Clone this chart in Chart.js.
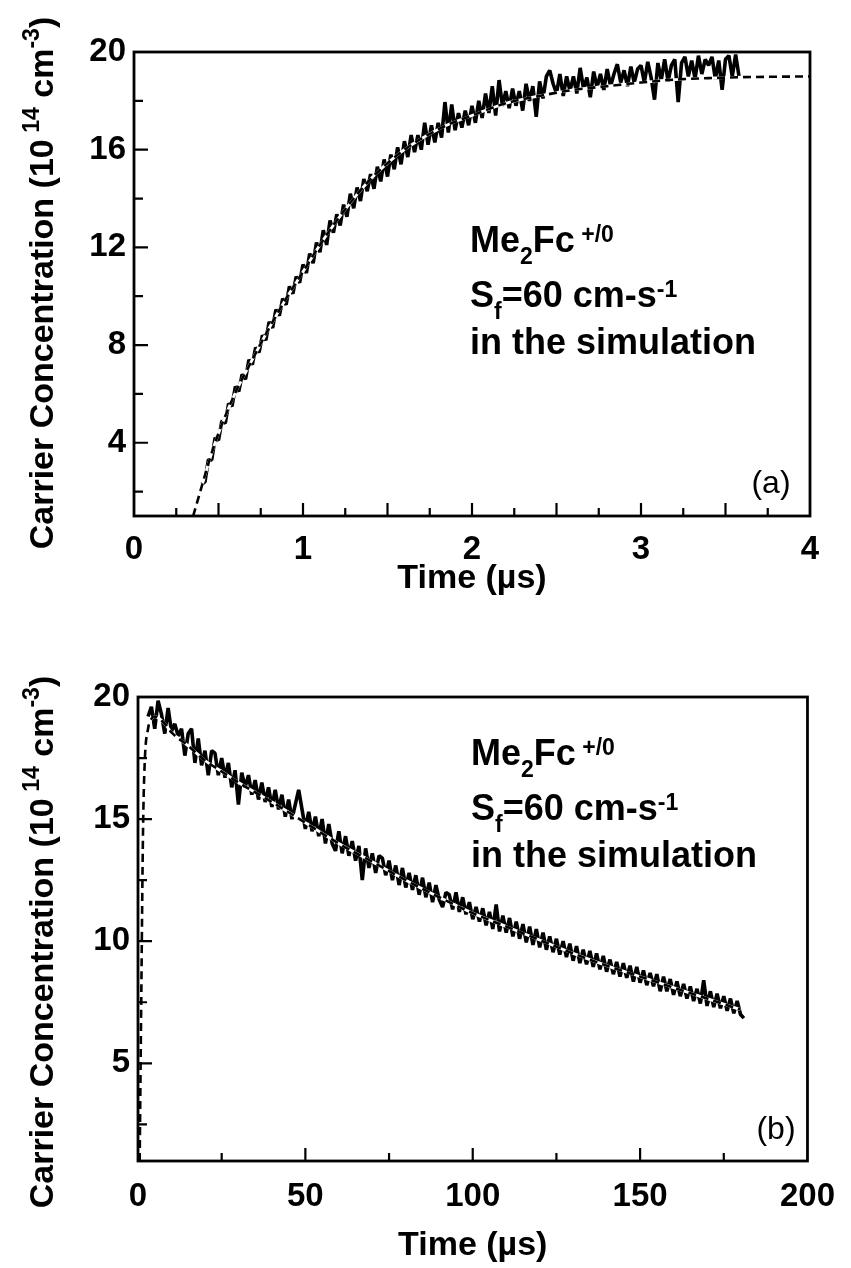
<!DOCTYPE html>
<html>
<head>
<meta charset="utf-8">
<script src="https://cdn.jsdelivr.net/npm/chart.js@4.4.1/dist/chart.umd.min.js"></script>
<style>
  html, body { margin: 0; padding: 0; background: #fff; }
  #wrap { position: relative; width: 851px; height: 1268px; }
  canvas { position: absolute; left: 0; }
  #chartA { top: 0; }
  #chartB { top: 620px; }
</style>
</head>
<body>
<div id="wrap">
  <canvas id="chartA" width="851" height="620"></canvas>
  <canvas id="chartB" width="851" height="648"></canvas>
</div>
<script>
// ---- panel (a): rise, 0-4 us ----
// measured trace, sampled every 0.02 us starting at 0.40 us
const startA = 0.40;
const stepA = 0.02;
const measuredA = [
  2.3, 2.4, 3.3, 3.3, 4.2, 4.1, 4.9, 4.8, 5.6, 5.5,
  6.3, 6.1, 6.8, 6.6, 7.4, 7.2, 7.9, 7.7, 8.4, 8.2,
  8.95, 8.7, 9.45, 9.2, 9.9, 9.65, 10.4, 10.1, 10.8, 10.55,
  11.3, 10.95, 11.75, 11.35, 12.2, 11.8, 12.7, 12.1, 13.1, 12.6,
  13.35, 12.9, 13.75, 13.25, 14.2, 13.6, 14.45, 13.9, 14.8, 14.3,
  15.0, 14.4, 15.3, 14.7, 15.6, 14.9, 15.8, 15.2, 16.1, 15.4,
  16.35, 15.7, 16.6, 15.9, 16.6, 16.0, 17.1, 16.2, 17.0, 16.3,
  17.1, 16.5, 17.95, 16.7, 17.85, 16.8, 17.5, 16.9, 17.6, 17.0,
  17.8, 17.1, 18.0, 17.3, 18.3, 17.5, 18.6, 17.4, 18.85, 17.8,
  18.4, 17.7, 18.5, 17.8, 18.4, 17.6, 18.7, 18.0, 18.6, 17.35,
  18.8, 18.1, 19.0, 19.25, 18.7, 18.3, 19.1, 18.2, 19.0, 18.4,
  19.0, 18.3, 19.35, 18.5, 18.95, 18.15, 19.2, 18.55, 19.1, 18.45,
  19.3, 18.6, 19.1, 19.5, 18.75, 19.25, 18.6, 19.4, 18.75, 19.3,
  19.45, 18.75, 19.6, 18.95, 18.05, 19.55, 18.85, 19.7, 18.8, 19.45,
  19.7, 17.95, 19.55, 19.8, 19.0, 19.65, 18.9, 19.85, 19.1, 19.7,
  19.45, 19.8, 18.9, 19.65, 18.45, 19.7, 19.85, 19.0, 19.9, 19.0
];
// simulation (Sf = 60 cm/s)
const simTimeA = [0.35, 0.475, 0.59, 0.70, 0.80, 0.90, 1.00, 1.10, 1.20, 1.30, 1.40, 1.50, 1.60,
  1.70, 1.85, 2.00, 2.20, 2.40, 2.60, 2.80, 3.00, 3.20, 3.40, 3.60, 4.00];
const simValueA = [1.0, 3.9, 5.9, 7.4, 8.7, 9.9, 11.0, 12.1, 13.1, 14.0, 14.8, 15.45, 16.0,
  16.45, 17.0, 17.4, 17.9, 18.2, 18.45, 18.6, 18.75, 18.87, 18.93, 18.97, 19.0];
const xTicksA = [0, 0.25, 0.5, 0.75, 1, 1.25, 1.5, 1.75, 2, 2.25, 2.5, 2.75, 3, 3.25, 3.5, 3.75, 4];
const xLabelsA = [0, 1, 2, 3, 4];
const yTicksA = [2, 4, 6, 8, 10, 12, 14, 16, 18, 20];
const yLabelsA = [4, 8, 12, 16, 20];

// ---- panel (b): decay, 0-200 us ----
// measured trace, one sample per us starting at 3 us
const startB = 3;
const stepB = 1;
const measuredB = [
  19.2, 19.6, 18.7, 19.85, 19.3, 18.5, 19.55, 18.6, 18.9, 18.4,
  18.7, 17.6, 18.5, 18.7, 17.3, 18.3, 17.2, 17.8, 16.8, 17.8,
  17.7, 16.8, 17.5, 16.7, 17.3, 16.3, 17.0, 15.6, 16.9, 16.3,
  16.8, 16.0, 16.6, 15.8, 16.5, 15.7, 16.3, 15.5, 16.2, 15.4,
  16.0, 15.1, 15.8, 15.0, 15.6, 16.2, 15.4, 14.6, 15.3, 14.5,
  15.1, 14.3, 15.0, 14.0, 14.8, 14.0, 13.7, 14.5, 13.6, 14.3,
  13.5, 14.1, 13.3, 13.9, 12.5, 13.8, 13.0, 13.6, 12.8, 13.5,
  13.4, 12.7, 13.3, 12.5, 13.1, 12.3, 13.0, 12.2, 12.8, 12.1,
  12.7, 11.9, 12.6, 11.8, 12.4, 11.6, 12.3, 11.7, 11.4, 12.0,
  11.9, 11.3, 12.0, 11.2, 11.8, 11.1, 11.6, 10.9, 11.4, 10.8,
  11.35, 10.65, 11.2, 10.5, 11.5, 10.4, 11.05, 10.35, 10.95, 10.2,
  10.8, 10.1, 10.7, 9.95, 10.6, 9.85, 10.5, 9.75, 10.35, 9.65,
  10.2, 9.55, 10.1, 9.45, 10.0, 9.35, 9.9, 9.2, 9.8, 9.1,
  9.65, 9.05, 9.6, 8.95, 9.5, 8.85, 9.4, 8.75, 9.25, 8.65,
  9.15, 8.55, 9.1, 8.5, 9.0, 8.35, 8.95, 8.3, 8.8, 8.2,
  8.7, 8.15, 8.65, 7.95, 8.55, 7.95, 8.45, 7.8, 8.35, 7.75,
  8.25, 7.65, 8.15, 7.55, 8.05, 7.45, 8.4, 7.35, 7.95, 7.3,
  7.85, 7.25, 7.75, 7.15, 7.65, 7.05, 7.55, 7.0, 6.85
];
const simTimeB = [0.5, 1, 1.5, 2, 3, 4, 5, 6, 8, 10, 15, 20, 25, 30, 40, 50, 60, 70, 80, 90,
  100, 110, 120, 130, 140, 150, 160, 170, 180];
const simValueB = [1.0, 8.0, 14.5, 17.3, 18.7, 19.1, 19.2, 19.15, 18.9, 18.55, 18.0, 17.4, 16.95,
  16.5, 15.7, 14.85, 14.0, 13.25, 12.5, 11.8, 11.15, 10.6, 10.05, 9.5, 9.0, 8.55, 8.1, 7.65, 7.2];
const xTicksB = [0, 25, 50, 75, 100, 125, 150, 175, 200];
const xLabelsB = [0, 50, 100, 150, 200];
const yTicksB = [2.5, 5, 7.5, 10, 12.5, 15, 17.5, 20];
const yLabelsB = [5, 10, 15, 20];

// texts
const yTitleParts = [['Carrier Concentration (10', ''], [' 14', 'sup'], [' cm', ''], ['-3', 'sup'], [')', '']];
const noteLines = [
  [['Me', ''], ['2', 'sub'], ['Fc', ''], [' +/0', 'sup']],
  [['S', ''], ['f', 'sub'], ['=60 cm-s', ''], ['-1', 'sup']],
  [['in the simulation', '']]
];

const FONT = '"Liberation Sans", Arial, Helvetica, sans-serif';

function onStep(v, step) {
  const r = v / step;
  return Math.abs(r - Math.round(r)) < 1e-6;
}

// text with sub/superscripts, left aligned at x, baseline y
function richWidth(ctx, parts, size, weight, small) {
  let w = 0;
  parts.forEach(([t, mode]) => {
    ctx.font = weight + ' ' + (mode ? size * small : size) + 'px ' + FONT;
    w += ctx.measureText(t).width;
  });
  return w;
}
function drawRich(ctx, parts, x, y, size, weight, small, supShift, subShift) {
  ctx.textAlign = 'left';
  ctx.textBaseline = 'alphabetic';
  let cx = x;
  parts.forEach(([t, mode]) => {
    ctx.font = weight + ' ' + (mode ? size * small : size) + 'px ' + FONT;
    let dy = 0;
    if (mode === 'sup') dy = -size * supShift;
    if (mode === 'sub') dy = size * subShift;
    ctx.fillText(t, cx, y + dy);
    cx += ctx.measureText(t).width;
  });
}

// frame, inward ticks, rotated y title, annotation and panel letter
const framePlugin = {
  id: 'frame',
  afterDraw(chart, args, o) {
    const ctx = chart.ctx;
    const a = chart.chartArea;
    const xs = chart.scales.x, ys = chart.scales.y;
    ctx.save();
    ctx.strokeStyle = '#000';
    ctx.fillStyle = '#000';
    ctx.lineWidth = 2.8;
    ctx.strokeRect(a.left, a.top, a.right - a.left, a.bottom - a.top);

    ctx.lineWidth = 2.2;
    ctx.beginPath();
    xs.ticks.forEach(t => {
      if (t.value <= xs.min || t.value >= xs.max) return;
      const len = onStep(t.value, o.xMajor) ? 13 : 8;
      const px = xs.getPixelForValue(t.value);
      ctx.moveTo(px, a.bottom);
      ctx.lineTo(px, a.bottom - len);
    });
    ys.ticks.forEach(t => {
      if (t.value <= ys.min || t.value >= ys.max) return;
      const len = onStep(t.value, o.yMajor) ? 14 : 9;
      const py = ys.getPixelForValue(t.value);
      ctx.moveTo(a.left, py);
      ctx.lineTo(a.left + len, py);
    });
    ctx.stroke();

    ctx.save();
    ctx.translate(o.titleX, o.titleY);
    ctx.rotate(-Math.PI / 2);
    const w = richWidth(ctx, yTitleParts, 34, 'bold', 0.68);
    drawRich(ctx, yTitleParts, -w / 2, 0, 34, 'bold', 0.68, 0.42, 0.3);
    ctx.restore();

    noteLines.forEach((parts, i) => {
      drawRich(ctx, parts, o.noteX, o.noteY[i], 36, 'bold', 0.64, 0.27, 0.32);
    });

    ctx.font = '32px ' + FONT;
    ctx.textAlign = 'center';
    ctx.textBaseline = 'middle';
    ctx.fillText(o.letter, o.letterX, o.letterY);
    ctx.restore();
  }
};

function toPoints(xs, ys) {
  return ys.map((y, i) => ({ x: xs[i], y: y }));
}
function sampled(start, step, ys) {
  return ys.map((y, i) => ({ x: start + i * step, y: y }));
}

function makeChart(id, p) {
  const sim = toPoints(p.simT, p.simV);
  return new Chart(document.getElementById(id), {
    type: 'scatter',
    data: {
      datasets: [
        { data: p.measured, showLine: true, borderColor: '#000000', borderWidth: 3.6,
          pointRadius: 0, borderJoinStyle: 'bevel', order: 3 },
        { data: sim, showLine: true, borderColor: '#ffffff', borderWidth: 2.8,
          pointRadius: 0, cubicInterpolationMode: 'monotone', order: 2 },
        { data: sim, showLine: true, borderColor: '#000000', borderWidth: 2.6, borderDash: [8, 5],
          pointRadius: 0, cubicInterpolationMode: 'monotone', order: 1 }
      ]
    },
    options: {
      responsive: false,
      animation: false,
      devicePixelRatio: 1,
      events: [],
      layout: { padding: { left: 0, top: p.padTop, right: p.padRight, bottom: 0 } },
      plugins: {
        legend: { display: false },
        tooltip: { enabled: false },
        frame: p.frame
      },
      scales: {
        x: {
          type: 'linear',
          min: p.xMin, max: p.xMax,
          grid: { display: false, drawTicks: false },
          border: { display: false },
          afterBuildTicks: s => { s.ticks = p.xTicks.map(v => ({ value: v })); },
          afterFit: s => { s.height = p.xAxisHeight; },
          ticks: {
            autoSkip: false, maxRotation: 0, padding: p.xLabelPad, color: '#000',
            font: { family: FONT, size: 33, weight: 'bold' },
            callback: v => p.xLabels.includes(v) ? String(v) : ''
          },
          title: {
            display: true, text: 'Time (\u00b5s)', color: '#000',
            font: { family: FONT, size: 34, weight: 'bold' },
            padding: { top: 0, bottom: p.xTitlePad }
          }
        },
        y: {
          type: 'linear',
          min: 1, max: 20,
          grid: { display: false, drawTicks: false },
          border: { display: false },
          afterBuildTicks: s => { s.ticks = p.yTicks.map(v => ({ value: v })); },
          afterFit: s => { s.width = p.yAxisWidth; },
          ticks: {
            autoSkip: false, padding: 8, color: '#000',
            font: { family: FONT, size: 33, weight: 'bold' },
            callback: v => p.yLabels.includes(v) ? String(v) : ''
          }
        }
      }
    },
    plugins: [framePlugin]
  });
}

makeChart('chartA', {
  measured: sampled(startA, stepA, measuredA),
  simT: simTimeA, simV: simValueA,
  xMin: 0, xMax: 4, xTicks: xTicksA, xLabels: xLabelsA,
  yTicks: yTicksA, yLabels: yLabelsA,
  padTop: 52, padRight: 41, yAxisWidth: 134, xAxisHeight: 104,
  xLabelPad: 14, xTitlePad: 21,
  frame: { xMajor: 0.5, yMajor: 4, titleX: 53, titleY: 283,
    noteX: 470, noteY: [252, 307, 354], letter: '(a)', letterX: 771, letterY: 484 }
});

makeChart('chartB', {
  measured: sampled(startB, stepB, measuredB),
  simT: simTimeB, simV: simValueB,
  xMin: 0, xMax: 200, xTicks: xTicksB, xLabels: xLabelsB,
  yTicks: yTicksB, yLabels: yLabelsB,
  padTop: 77, padRight: 37, yAxisWidth: 138, xAxisHeight: 107,
  xLabelPad: 16, xTitlePad: 2,
  frame: { xMajor: 50, yMajor: 5, titleX: 53, titleY: 322,
    noteX: 471, noteY: [145, 200, 247], letter: '(b)', letterX: 776, letterY: 510 }
});
</script>
</body>
</html>
